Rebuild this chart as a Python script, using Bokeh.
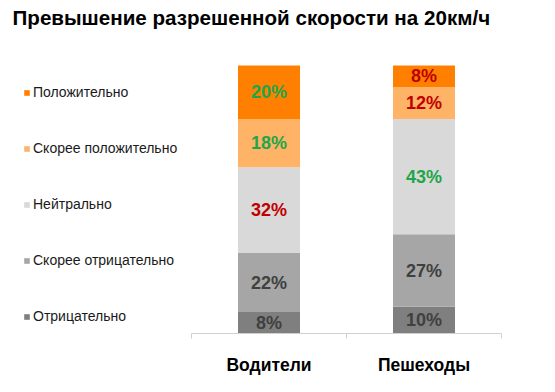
from bokeh.plotting import figure
from bokeh.models import (Range1d, FixedTicker, Legend, LegendItem, Label, ColumnDataSource)
from bokeh.embed import file_html
from bokeh.resources import INLINE
from bokeh.core.properties import value

title_text = "Превышение разрешенной скорости на 20км/ч"
groups = ["Водители", "Пешеходы"]
series = ["Отрицательно", "Скорее отрицательно", "Нейтрально", "Скорее положительно", "Положительно"]
vals = {
    "Отрицательно": [8, 10],
    "Скорее отрицательно": [22, 27],
    "Нейтрально": [32, 43],
    "Скорее положительно": [18, 12],
    "Положительно": [20, 8],
}
colors = ["#7f7f7f", "#a6a6a6", "#d9d9d9", "#ffb366", "#ff8000"]
GREEN, RED, GRAY = "#1fa64a", "#c00000", "#404040"
label_colors = {
    "Отрицательно": [GRAY, GRAY],
    "Скорее отрицательно": [GRAY, GRAY],
    "Нейтрально": [RED, GREEN],
    "Скорее положительно": [GREEN, RED],
    "Положительно": [GREEN, RED],
}

xs = [0.5, 1.5]

# layout constants (pixels)
W, H = 547, 384
AX_L, AX_R, BAR_TOP, AX_Y = 191, 501, 65, 333
px_per_x = (AX_R - AX_L) / 2.0
px_per_y = (AX_Y - BAR_TOP) / 100.0

p = figure(width=W, height=H, output_backend="svg", toolbar_location=None,
           x_range=Range1d(-AX_L / px_per_x, 2 + (W - AX_R) / px_per_x),
           y_range=Range1d(0, 100 + BAR_TOP / px_per_y),
           min_border_left=0, min_border_right=0,
           min_border_top=0, min_border_bottom=H - AX_Y)
p.outline_line_color = None
p.xgrid.visible = False
p.ygrid.visible = False
p.yaxis.visible = False
p.background_fill_color = "white"

data = {"x": xs}
for s in series:
    data[s] = vals[s]
src = ColumnDataSource(data)
renderers = p.vbar_stack(series, x="x", width=0.4, color=colors, source=src, line_color=None)

# labels
lx, ly, lt, lc = [], [], [], []
for i, x in enumerate(xs):
    cum = 0
    for s in series:
        v = vals[s][i]
        lx.append(x)
        ly.append(cum + v / 2)
        lt.append(f"{v}%")
        lc.append(label_colors[s][i])
        cum += v
p.text(x=lx, y=ly, text=lt, text_color=lc, text_align="center", text_baseline="middle",
       text_font=value("Liberation Sans"), text_font_style="bold", text_font_size="18px")

ax = p.xaxis[0]
ax.bounds = (0, 2)
ax.ticker = FixedTicker(ticks=xs, minor_ticks=[0, 1, 2])
ax.major_label_overrides = {0.5: groups[0], 1.5: groups[1]}
ax.major_tick_out = 0
ax.major_tick_in = 0
ax.major_tick_line_color = None
ax.minor_tick_in = 0
ax.minor_tick_out = 5
ax.minor_tick_line_color = "#d0d0d0"
ax.axis_line_color = "#d0d0d0"
ax.major_label_standoff = 16
ax.major_label_text_font = "Liberation Sans"
ax.major_label_text_font_style = "bold"
ax.major_label_text_font_size = "17.5px"
ax.major_label_text_color = "#000000"

items = [LegendItem(label=s, renderers=[r]) for s, r in zip(series, renderers)][::-1]
legend = Legend(items=items, location=(23, 9), orientation="vertical",
                glyph_width=7, glyph_height=7, label_height=16, spacing=40,
                label_standoff=3, padding=0, margin=0,
                border_line_color=None, background_fill_alpha=0,
                label_text_font="Liberation Sans", label_text_font_size="14px",
                label_text_color="#1a1a1a")
p.add_layout(legend, "center")

title = Label(x=12, y=AX_Y - 17, x_units="screen", y_units="screen", text=title_text,
              text_font="Liberation Sans", text_font_style="bold", text_font_size="20.6px",
              text_baseline="middle", text_color="#000000")
p.add_layout(title)

open("out.html", "w").write(file_html(p, INLINE))
